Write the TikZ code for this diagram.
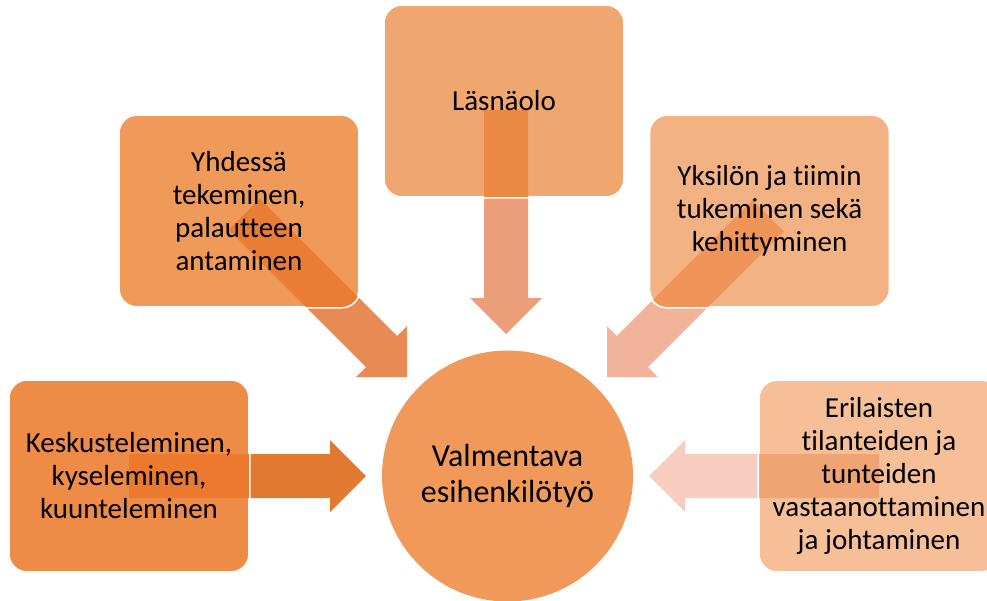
\documentclass[tikz,border=0pt]{standalone}
\usepackage{fontspec}
\setmainfont{Carlito}[Ligatures={NoCommon}]

% fills of the five topic boxes and the centre
\definecolor{boxT}{HTML}{F0A66F}
\definecolor{boxUL}{HTML}{EF9A58}
\definecolor{boxUR}{HTML}{F3B283}
\definecolor{boxL}{HTML}{EE8B47}
\definecolor{boxR}{HTML}{F6BF98}
\definecolor{centre}{HTML}{F0995A}
% block arrows: outside part and part lying over its box
\definecolor{arrTout}{HTML}{EC9E7A}
\definecolor{arrTin}{HTML}{EB8844}
\definecolor{arrULout}{HTML}{E78A54}
\definecolor{arrULin}{HTML}{EA7D36}
\definecolor{arrURout}{HTML}{F1B39A}
\definecolor{arrURin}{HTML}{EF9559}
\definecolor{arrLout}{HTML}{E27930}
\definecolor{arrLin}{HTML}{EC7A2E}
\definecolor{arrRout}{HTML}{F6CDBF}
\definecolor{arrRin}{HTML}{F0A473}

% block arrow with its tip at #1, direction #2, total length #3, fill #4
\newcommand\blockarrowat[4]{%
  \begin{scope}[shift={(#1)}, rotate=#2]
    \fill[#4] (0,0) -- (-36,-36) -- (-36,-22) -- (-#3,-22)
      -- (-#3,22) -- (-36,22) -- (-36,36) -- cycle;
  \end{scope}}

% outline of a topic box
\newcommand\boxoutline[1]{%
  \draw[white, line width=1.6pt, rounded corners=18pt]
    (#1.north west) rectangle (#1.south east);}

\begin{document}
\begin{tikzpicture}[x=1pt, y=-1pt,
  topicbox/.style={rectangle, rounded corners=18pt, minimum width=240pt,
    minimum height=192pt, inner sep=0pt, draw=white, line width=1.6pt},
  lbl/.style={align=center, text=black, inner sep=0pt,
    font=\fontsize{29}{33}\selectfont}]
\useasboundingbox (0,0) rectangle (987,600);
\fill[white] (0,0) rectangle (987,600);
\clip (0,0) rectangle (987,600);

% arrow tips around the centre
\coordinate (tipT)  at (506,334);
\coordinate (tipUL) at (407,377);
\coordinate (tipUR) at (607,377);
\coordinate (tipL)  at (366,476);
\coordinate (tipR)  at (649,476);

% arrows
\blockarrowat{tipT}{-90}{224}{arrTout}
\blockarrowat{tipUL}{-45}{230}{arrULout}
\blockarrowat{tipUR}{-135}{228}{arrURout}
\blockarrowat{tipL}{0}{237}{arrLout}
\blockarrowat{tipR}{180}{230}{arrRout}

% topic boxes
\node[topicbox, fill=boxT]  (bT)  at (504,101) {};
\node[topicbox, fill=boxUL] (bUL) at (239,211) {};
\node[topicbox, fill=boxUR] (bUR) at (769.5,211) {};
\node[topicbox, fill=boxL]  (bL)  at (129,476) {};
\node[topicbox, fill=boxR]  (bR)  at (879,476) {};

% arrow parts lying over the boxes
\begin{scope}
  \clip[rounded corners=18pt] (bT.north west) rectangle (bT.south east);
  \blockarrowat{tipT}{-90}{224}{arrTin}
\end{scope}
\begin{scope}
  \clip[rounded corners=18pt] (bUL.north west) rectangle (bUL.south east);
  \blockarrowat{tipUL}{-45}{230}{arrULin}
\end{scope}
\begin{scope}
  \clip[rounded corners=18pt] (bUR.north west) rectangle (bUR.south east);
  \blockarrowat{tipUR}{-135}{228}{arrURin}
\end{scope}
\begin{scope}
  \clip[rounded corners=18pt] (bL.north west) rectangle (bL.south east);
  \blockarrowat{tipL}{0}{237}{arrLin}
\end{scope}
\begin{scope}
  \clip[rounded corners=18pt] (bR.north west) rectangle (bR.south east);
  \blockarrowat{tipR}{180}{230}{arrRin}
\end{scope}
\boxoutline{bT}
\boxoutline{bUL}
\boxoutline{bUR}
\boxoutline{bL}
\boxoutline{bR}

% centre
\node[circle, fill=centre, minimum size=251pt, inner sep=0pt] (c) at (507.5,476) {};

% labels
\node[lbl] (tT)  at (bT.center)  {Läsnäolo};
\node[lbl] (tUL) at (bUL.center) {Yhdessä\\tekeminen,\\palautteen\\antaminen};
\node[lbl] (tUR) at (bUR.center) {Yksilön ja tiimin\\tukeminen sekä\\kehittyminen};
\node[lbl] (tL)  at (bL.center)  {Keskusteleminen,\\kyseleminen,\\kuunteleminen};
\node[lbl] (tR)  at (bR.center)  {Erilaisten\\tilanteiden ja\\tunteiden\\vastaanottaminen\\ja johtaminen};
\node[lbl, font=\fontsize{32}{36}\selectfont] (tC) at (c.center) {Valmentava\\esihenkilötyö};
\end{tikzpicture}
\end{document}
